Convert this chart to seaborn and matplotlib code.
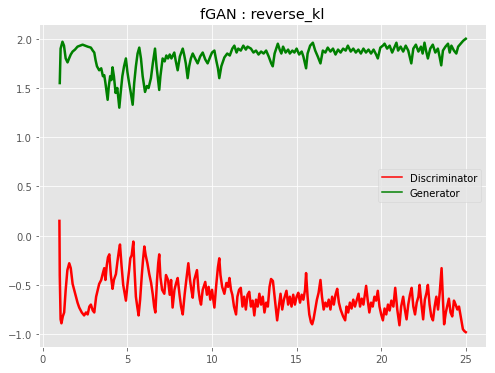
import matplotlib
matplotlib.use("Agg")
import matplotlib.pyplot as plt
import seaborn as sns
import pandas as pd

# (epoch, loss) pairs
disc_points = [
    (0.98, 0.15), (1.00, -0.40), (1.05, -0.85), (1.10, -0.89), (1.18, -0.82),
    (1.26, -0.78), (1.35, -0.55), (1.45, -0.35), (1.56, -0.28), (1.65, -0.33),
    (1.76, -0.49), (1.85, -0.55), (1.95, -0.62), (2.05, -0.68), (2.15, -0.73),
    (2.30, -0.78), (2.44, -0.81), (2.55, -0.78), (2.65, -0.80), (2.75, -0.72),
    (2.84, -0.70), (2.95, -0.76), (3.04, -0.78), (3.15, -0.62), (3.25, -0.55),
    (3.33, -0.49), (3.45, -0.45), (3.55, -0.38), (3.63, -0.33), (3.70, -0.45),
    (3.78, -0.30), (3.85, -0.22), (3.93, -0.19), (4.02, -0.40), (4.12, -0.54),
    (4.20, -0.45), (4.32, -0.39), (4.42, -0.25), (4.50, -0.15), (4.56, -0.09),
    (4.65, -0.30), (4.75, -0.50), (4.85, -0.60), (4.91, -0.66), (5.00, -0.50),
    (5.10, -0.35), (5.17, -0.23), (5.25, -0.20), (5.35, -0.06), (5.42, -0.35),
    (5.50, -0.62), (5.58, -0.72), (5.66, -0.81), (5.75, -0.65), (5.85, -0.40),
    (5.92, -0.25), (6.00, -0.11), (6.08, -0.20), (6.18, -0.28), (6.29, -0.39),
    (6.40, -0.48), (6.50, -0.60), (6.58, -0.72), (6.65, -0.78), (6.75, -0.45),
    (6.82, -0.28), (6.88, -0.19), (6.95, -0.42), (7.05, -0.55), (7.18, -0.59),
    (7.28, -0.40), (7.40, -0.45), (7.50, -0.60), (7.58, -0.45), (7.67, -0.73),
    (7.78, -0.55), (7.88, -0.48), (7.97, -0.43), (8.08, -0.60), (8.17, -0.72),
    (8.27, -0.80), (8.38, -0.60), (8.48, -0.45), (8.60, -0.28), (8.70, -0.45),
    (8.78, -0.55), (8.86, -0.63), (8.95, -0.45), (9.03, -0.40), (9.11, -0.35),
    (9.20, -0.55), (9.28, -0.65), (9.35, -0.70), (9.45, -0.55), (9.60, -0.47),
    (9.70, -0.60), (9.80, -0.52), (9.90, -0.65), (10.00, -0.55), (10.14, -0.73),
    (10.25, -0.50), (10.35, -0.32), (10.43, -0.23), (10.50, -0.40), (10.60, -0.52),
    (10.73, -0.59), (10.85, -0.48), (10.95, -0.52), (11.03, -0.43), (11.12, -0.55),
    (11.20, -0.60), (11.30, -0.72), (11.42, -0.80), (11.50, -0.62), (11.60, -0.55),
    (11.70, -0.53), (11.80, -0.72), (11.90, -0.62), (12.00, -0.75), (12.10, -0.60),
    (12.20, -0.57), (12.30, -0.72), (12.40, -0.66), (12.50, -0.81), (12.60, -0.65),
    (12.70, -0.72), (12.80, -0.59), (12.90, -0.70), (13.00, -0.62), (13.10, -0.78),
    (13.20, -0.68), (13.30, -0.72), (13.40, -0.52), (13.49, -0.44), (13.60, -0.46),
    (13.70, -0.62), (13.85, -0.86), (13.95, -0.72), (14.05, -0.59), (14.15, -0.75),
    (14.25, -0.65), (14.40, -0.56), (14.50, -0.70), (14.60, -0.62), (14.70, -0.72),
    (14.80, -0.60), (14.90, -0.70), (15.00, -0.62), (15.10, -0.58), (15.20, -0.68),
    (15.30, -0.60), (15.40, -0.65), (15.50, -0.55), (15.56, -0.38), (15.65, -0.62),
    (15.75, -0.80), (15.85, -0.88), (15.92, -0.90), (16.00, -0.85), (16.10, -0.75),
    (16.20, -0.65), (16.30, -0.58), (16.41, -0.45), (16.50, -0.62), (16.60, -0.75),
    (16.70, -0.68), (16.80, -0.72), (16.90, -0.65), (17.00, -0.75), (17.10, -0.62),
    (17.20, -0.70), (17.30, -0.60), (17.40, -0.54), (17.50, -0.68), (17.60, -0.75),
    (17.75, -0.82), (17.87, -0.86), (17.95, -0.72), (18.05, -0.78), (18.15, -0.68),
    (18.25, -0.74), (18.35, -0.65), (18.45, -0.72), (18.55, -0.66), (18.66, -0.59),
    (18.75, -0.72), (18.85, -0.64), (18.95, -0.70), (19.05, -0.58), (19.11, -0.51),
    (19.20, -0.65), (19.30, -0.78), (19.40, -0.68), (19.50, -0.72), (19.60, -0.62),
    (19.70, -0.66), (19.80, -0.56), (19.90, -0.72), (20.00, -0.80), (20.10, -0.86),
    (20.20, -0.74), (20.30, -0.80), (20.40, -0.70), (20.50, -0.76), (20.60, -0.66),
    (20.72, -0.72), (20.83, -0.53), (20.95, -0.75), (21.08, -0.91), (21.18, -0.72),
    (21.30, -0.62), (21.40, -0.75), (21.50, -0.85), (21.60, -0.70), (21.70, -0.60),
    (21.80, -0.53), (21.90, -0.72), (22.00, -0.80), (22.10, -0.68), (22.20, -0.62),
    (22.27, -0.50), (22.37, -0.68), (22.48, -0.85), (22.58, -0.65), (22.68, -0.58),
    (22.76, -0.50), (22.86, -0.70), (22.96, -0.82), (23.06, -0.86), (23.16, -0.72),
    (23.26, -0.62), (23.36, -0.75), (23.46, -0.58), (23.57, -0.33), (23.65, -0.65),
    (23.72, -0.90), (23.82, -0.78), (23.92, -0.70), (24.00, -0.64), (24.10, -0.78),
    (24.20, -0.82), (24.30, -0.66), (24.40, -0.70), (24.50, -0.75), (24.60, -0.72),
    (24.70, -0.82), (24.83, -0.95), (24.92, -0.97), (25.00, -0.98),
]

gen_points = [
    (1.00, 1.55), (1.05, 1.90), (1.16, 1.97), (1.25, 1.93), (1.35, 1.80),
    (1.46, 1.76), (1.55, 1.80), (1.65, 1.84), (1.76, 1.87), (1.90, 1.89),
    (2.05, 1.92), (2.20, 1.93), (2.35, 1.94), (2.50, 1.93), (2.65, 1.92),
    (2.84, 1.91), (2.95, 1.88), (3.04, 1.86), (3.12, 1.78), (3.20, 1.72),
    (3.33, 1.68), (3.45, 1.70), (3.55, 1.62), (3.63, 1.63), (3.70, 1.55),
    (3.78, 1.45), (3.83, 1.38), (3.90, 1.52), (3.98, 1.62), (4.05, 1.58),
    (4.12, 1.71), (4.20, 1.62), (4.30, 1.45), (4.40, 1.50), (4.52, 1.30),
    (4.60, 1.45), (4.70, 1.62), (4.80, 1.72), (4.91, 1.80), (5.00, 1.66),
    (5.10, 1.55), (5.20, 1.45), (5.31, 1.33), (5.40, 1.55), (5.50, 1.72),
    (5.60, 1.85), (5.70, 1.91), (5.80, 1.80), (5.90, 1.62), (6.04, 1.46),
    (6.15, 1.52), (6.25, 1.50), (6.39, 1.60), (6.50, 1.75), (6.63, 1.90),
    (6.72, 1.72), (6.80, 1.60), (6.88, 1.48), (6.95, 1.62), (7.08, 1.80),
    (7.20, 1.77), (7.30, 1.83), (7.40, 1.80), (7.50, 1.84), (7.60, 1.80),
    (7.77, 1.86), (7.85, 1.78), (7.97, 1.68), (8.10, 1.82), (8.27, 1.90),
    (8.35, 1.84), (8.45, 1.75), (8.56, 1.60), (8.65, 1.72), (8.75, 1.80),
    (8.86, 1.85), (9.00, 1.80), (9.15, 1.75), (9.30, 1.82), (9.45, 1.86),
    (9.60, 1.79), (9.74, 1.75), (9.90, 1.82), (10.00, 1.86), (10.14, 1.88),
    (10.25, 1.78), (10.35, 1.70), (10.43, 1.60), (10.55, 1.72), (10.73, 1.81),
    (10.90, 1.85), (11.05, 1.83), (11.20, 1.90), (11.32, 1.93), (11.45, 1.86),
    (11.55, 1.90), (11.70, 1.88), (11.85, 1.93), (12.00, 1.89), (12.10, 1.92),
    (12.30, 1.90), (12.45, 1.86), (12.60, 1.88), (12.75, 1.84), (12.90, 1.87),
    (13.05, 1.85), (13.20, 1.88), (13.35, 1.82), (13.50, 1.75), (13.59, 1.72),
    (13.70, 1.85), (13.89, 1.95), (14.00, 1.89), (14.10, 1.85), (14.20, 1.92),
    (14.35, 1.86), (14.50, 1.89), (14.60, 1.85), (14.75, 1.88), (14.87, 1.86),
    (15.00, 1.90), (15.15, 1.84), (15.30, 1.87), (15.40, 1.82), (15.56, 1.70),
    (15.65, 1.85), (15.80, 1.93), (15.96, 1.96), (16.10, 1.88), (16.25, 1.82),
    (16.41, 1.75), (16.55, 1.88), (16.70, 1.86), (16.84, 1.91), (17.00, 1.87),
    (17.15, 1.90), (17.30, 1.84), (17.45, 1.89), (17.60, 1.86), (17.75, 1.90),
    (17.90, 1.88), (18.03, 1.93), (18.20, 1.87), (18.35, 1.90), (18.50, 1.86),
    (18.65, 1.89), (18.80, 1.85), (18.95, 1.90), (19.10, 1.86), (19.25, 1.89),
    (19.40, 1.85), (19.55, 1.89), (19.70, 1.84), (19.80, 1.80), (19.95, 1.91),
    (20.10, 1.93), (20.20, 1.95), (20.35, 1.90), (20.50, 1.93), (20.65, 1.86),
    (20.80, 1.92), (20.90, 1.96), (21.00, 1.88), (21.15, 1.92), (21.30, 1.87),
    (21.45, 1.93), (21.60, 1.88), (21.78, 1.75), (21.90, 1.90), (22.05, 1.94),
    (22.20, 1.87), (22.35, 1.92), (22.45, 1.85), (22.56, 1.96), (22.65, 1.88),
    (22.76, 1.80), (22.90, 1.90), (23.05, 1.94), (23.20, 1.86), (23.35, 1.90),
    (23.45, 1.82), (23.55, 1.73), (23.65, 1.88), (23.80, 1.92), (23.95, 1.95),
    (24.05, 1.86), (24.15, 1.93), (24.30, 1.88), (24.44, 1.85), (24.55, 1.92),
    (24.70, 1.95), (24.85, 1.98), (25.00, 2.00),
]

disc_x, disc_y = zip(*disc_points)
gen_x, gen_y = zip(*gen_points)

df_disc = pd.DataFrame({'epoch': disc_x, 'loss': disc_y})
df_gen = pd.DataFrame({'epoch': gen_x, 'loss': gen_y})

plt.style.use('ggplot')
fig, ax = plt.subplots(figsize=(6.875, 5.194), dpi=72)

sns.lineplot(data=df_disc, x='epoch', y='loss', color='red', linewidth=2.5,
             label='Discriminator', ax=ax, sort=False)
sns.lineplot(data=df_gen, x='epoch', y='loss', color='green', linewidth=2.5,
             label='Generator', ax=ax, sort=False)

ax.set_title('fGAN : reverse_kl', color='black')
ax.set_xlabel('')
ax.set_ylabel('')
ax.set_xticks([0, 5, 10, 15, 20, 25])
ax.set_yticks([-1.0, -0.5, 0.0, 0.5, 1.0, 1.5, 2.0])
ax.legend(loc='center right')
for line in ax.get_legend().get_lines():
    line.set_linewidth(1.5)

plt.subplots_adjust(left=0.079, right=0.982, top=0.933, bottom=0.07)
plt.savefig('out.png', dpi=72)
